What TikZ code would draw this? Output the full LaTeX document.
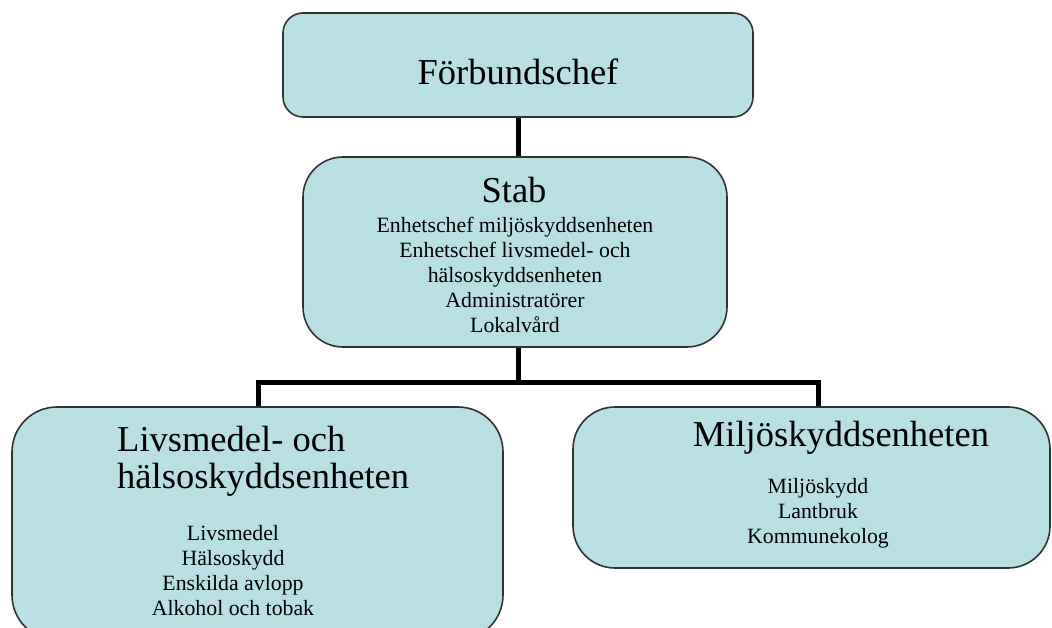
\documentclass[tikz,border=0pt]{standalone}
\usepackage{fontspec}
\setmainfont{Liberation Serif}
\definecolor{boxfill}{RGB}{186,223,227}
\definecolor{boxline}{RGB}{50,50,50}
\begin{document}
\begin{tikzpicture}[x=1pt,y=-1pt,
  orgbox/.style={draw=boxline, line width=1.6pt, fill=boxfill, rectangle, inner sep=0pt},
  conn/.style={line width=5pt, black},
  bigtxt/.style={font=\fontsize{36.5}{37}\selectfont, inner sep=0pt},
  smalltxt/.style={font=\fontsize{21.8}{25}\selectfont, align=center, inner sep=0pt}]
\useasboundingbox (0,0) rectangle (1052,628);
\clip (0,0) rectangle (1052,628);
% boxes
\node[orgbox, rounded corners=20pt, minimum width=470pt, minimum height=104pt] (chef) at (518,65) {};
\node[orgbox, rounded corners=40pt, minimum width=424pt, minimum height=190pt] (stab) at (515,252) {};
\node[orgbox, rounded corners=45pt, minimum width=491pt, minimum height=233pt] (livs) at (257.5,523.5) {};
\node[orgbox, rounded corners=42pt, minimum width=477pt, minimum height=161pt] (milj) at (811.5,487.5) {};
% connectors
\coordinate (hub) at (518,382);
\coordinate (hl) at (258,382);
\coordinate (hr) at (818,382);
\draw[conn] (chef.south -| hub) -- (stab.north -| hub);
\draw[conn] (stab.south -| hub) -- (hub);
\draw[conn] (livs.north -| hl) -- (hl) -- (hr) -- (milj.north -| hr);
% texts
\node[bigtxt] (t1) at (518,72) {Förbundschef};
\node[bigtxt] (t2) at (514,190) {Stab};
\node[smalltxt] (t2b) at (515,275) {Enhetschef miljöskyddsenheten\\Enhetschef livsmedel- och\\hälsoskyddsenheten\\Administratörer\\Lokalvård};
\node[bigtxt, align=left, anchor=west] (t3) at (117,461) {Livsmedel- och\\hälsoskyddsenheten};
\node[smalltxt] (t3b) at (233,571) {Livsmedel\\Hälsoskydd\\Enskilda avlopp\\Alkohol och tobak};
\node[bigtxt] (t4) at (841,438) {Miljöskyddsenheten};
\node[smalltxt] (t4b) at (818,513) {Miljöskydd\\Lantbruk\\Kommunekolog};
\end{tikzpicture}
\end{document}
